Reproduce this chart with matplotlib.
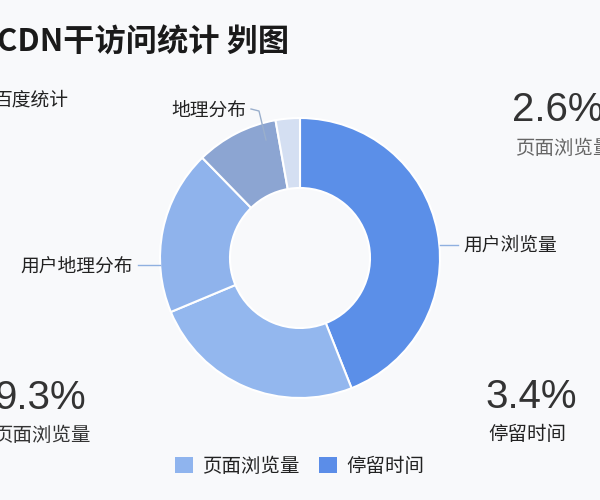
import matplotlib.pyplot as plt
from matplotlib.patches import Patch

plt.rcParams['font.family'] = ['Noto Sans CJK SC', 'DejaVu Sans']

# donut data (clockwise from 12 o'clock)
shares = [44.0, 24.7, 19.0, 9.5, 2.8]
colors = ['#5B8FE8', '#93B7EE', '#8FB3EC', '#8CA5D2', '#D4DFF2']
slice_labels = ['用户浏览量', '', '用户地理分布', '', '地理分布']

# side stats
stat_values = ['2.6%', '9.3%', '3.4%']
stat_names = ['页面浏览量', '页面浏览量', '停留时间']

legend_names = ['页面浏览量', '停留时间']
legend_colors = ['#8FB4EE', '#5B8DE8']

title = 'CDN干访问统计 刿图'
subtitle = '百度统计'

H = 500  # pixel height, used to flip y for text placement


def Y(py):
    return H - py


fig = plt.figure(figsize=(6, 5), dpi=100)
fig.patch.set_facecolor('#F8F9FB')
ax = fig.add_axes([0, 0, 1, 1])
ax.set_facecolor('#F8F9FB')

ax.pie(shares, colors=colors, startangle=90, counterclock=False,
       center=(300, Y(258)), radius=140,
       wedgeprops=dict(width=70, edgecolor='white', linewidth=1.5))

ax.set_xlim(0, 600)
ax.set_ylim(0, 500)
ax.set_aspect('equal')
ax.axis('off')

# title + subtitle
ax.text(-3, Y(43), title, fontsize=22.5, fontweight='bold', color='#1a1a1a',
        ha='left', va='center')
ax.text(-6, Y(100), subtitle, fontsize=13.5, color='#222222',
        ha='left', va='center')

# slice labels with leader lines
line_c = '#8FB0E0'
ax.plot([440, 458], [Y(245), Y(245)], color=line_c, lw=1)
ax.text(463, Y(245), slice_labels[0], fontsize=13.5, color='#222222',
        ha='left', va='center')
ax.plot([138, 160], [Y(265), Y(265)], color=line_c, lw=1)
ax.text(133, Y(266), slice_labels[2], fontsize=13.5, color='#222222',
        ha='right', va='center')
ax.plot([251, 259, 266], [Y(109), Y(111), Y(140)], color='#9AAFCC', lw=1)
ax.text(246, Y(110), slice_labels[4], fontsize=13.5, color='#222222',
        ha='right', va='center')

# side stats
num_kw = dict(fontsize=29, color='#333333', family=['Liberation Sans'], va='center')
ax.text(512, Y(110), stat_values[0], ha='left', **num_kw)
ax.text(515, Y(148), stat_names[0], fontsize=14, color='#666666',
        ha='left', va='center')
ax.text(86, Y(398), stat_values[1], ha='right', **num_kw)
ax.text(91, Y(435), stat_names[1], fontsize=14, color='#333333',
        ha='right', va='center')
ax.text(531, Y(397), stat_values[2], ha='center', **num_kw)
ax.text(527, Y(435), stat_names[2], fontsize=14, color='#222222',
        ha='center', va='center')

handles = [Patch(facecolor=c, edgecolor='none') for c in legend_colors]
ax.legend(handles, legend_names, loc='center', bbox_to_anchor=(0.5, 1 - 466 / H),
          ncol=2, frameon=False, fontsize=14, handlelength=0.9, handleheight=0.9,
          handletextpad=0.5, columnspacing=1.0, labelcolor='#222222')

fig.savefig('out.png', dpi=100, facecolor=fig.get_facecolor())
